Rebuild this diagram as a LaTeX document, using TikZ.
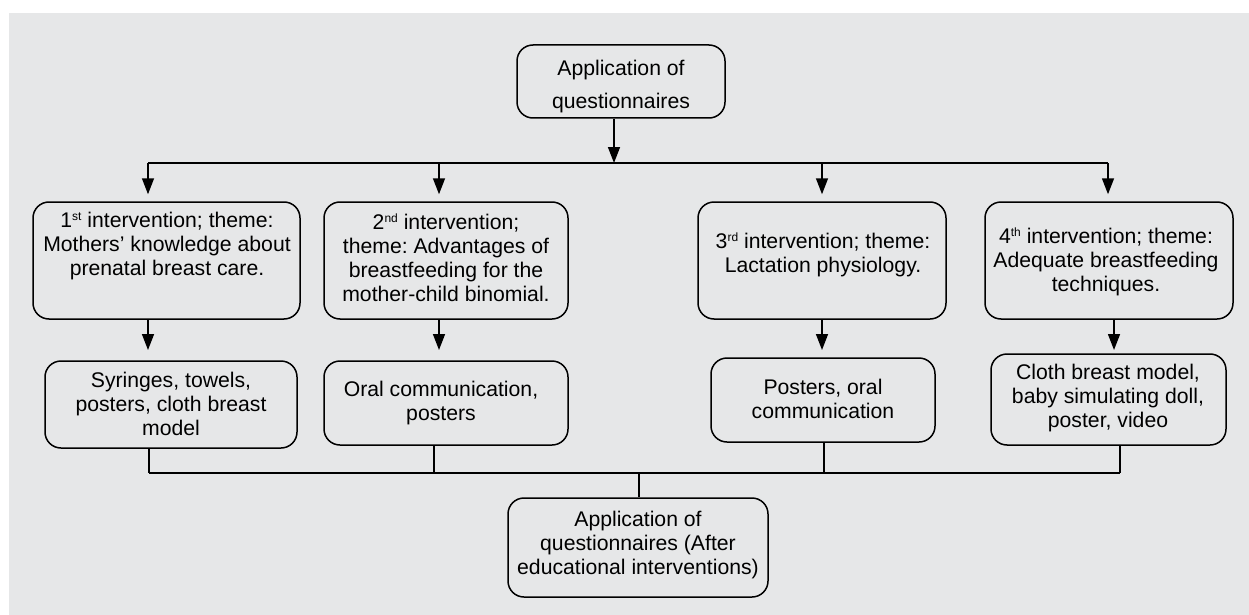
\documentclass[tikz,border=0pt]{standalone}
\usepackage{fontspec}
\setmainfont{Liberation Sans}
\usetikzlibrary{arrows.meta,calc}
\definecolor{bg}{HTML}{E6E7E8}
\newcommand{\ordsup}[1]{\raisebox{0.33em}{\fontsize{12}{12}\selectfont #1}}
\frenchspacing
\begin{document}
\begin{tikzpicture}[x=1pt,y=-1pt,
 box/.style={draw,line width=1.5pt,rounded corners=16pt,inner sep=0pt},
 txt/.style={align=center,font=\fontsize{21.2}{24}\selectfont\frenchspacing,inner sep=0pt},
 toptxt/.style={align=center,font=\fontsize{21.2}{33}\selectfont,inner sep=0pt},
 ln/.style={line width=1.5pt},
 arr/.style={line width=1.5pt,-{Triangle[length=16pt,width=12pt]}}]
\useasboundingbox (0,0) rectangle (1249,615);
\fill[bg] (9,13) rectangle (1249,615);

% boxes
\node[box,minimum width=208pt,minimum height=73pt] (top) at (621,81.5) {};
\node[toptxt] (toptext) at (621,87) {Application of\\questionnaires};

\node[box,minimum width=267pt,minimum height=117pt] (b1) at (166.5,260.5) {};
\node[txt] (t1) at (167,246) {1\ordsup{st} intervention; theme:\\Mothers’ knowledge about\\prenatal breast care.};
\node[box,minimum width=244pt,minimum height=117pt] (b2) at (446,260.5) {};
\node[txt] (t2) at (446,258) {2\ordsup{nd} intervention;\\theme: Advantages of\\breastfeeding for the\\mother-child binomial.};
\node[box,minimum width=248pt,minimum height=117pt] (b3) at (822,260.5) {};
\node[txt] (t3) at (823,255) {3\ordsup{rd} intervention; theme:\\Lactation physiology.};
\node[box,minimum width=248pt,minimum height=117pt] (b4) at (1109,260.5) {};
\node[txt] (t4) at (1106,262) {4\ordsup{th} intervention; theme:\\Adequate breastfeeding\\techniques.};

\node[box,minimum width=252pt,minimum height=87pt] (l1) at (171,404.5) {};
\node[txt] (u1) at (171,404) {Syringes, towels,\\posters, cloth breast\\model};
\node[box,minimum width=244pt,minimum height=84pt] (l2) at (446,403) {};
\node[txt] (u2) at (441,403) {Oral communication,\\posters};
\node[box,minimum width=224pt,minimum height=84pt] (l3) at (823,400) {};
\node[txt] (u3) at (823,399) {Posters, oral\\communication};
\node[box,minimum width=235pt,minimum height=91pt] (l4) at (1108.5,399.5) {};
\node[txt] (u4) at (1108,398) {Cloth breast model,\\baby simulating doll,\\poster, video};

\node[box,minimum width=260pt,minimum height=99pt] (fin) at (638,547.5) {};
\node[txt] (ft) at (638,545) {Application of\\questionnaires (After\\educational interventions)};

% coordinates
\coordinate (c0) at (614,163);
\coordinate (h1) at (148,163);
\coordinate (h2) at (439,163);
\coordinate (h3) at (822,163);
\coordinate (h4) at (1108,163);
\coordinate (m1) at (148,350);
\coordinate (m2) at (439,350);
\coordinate (m3) at (822,350);
\coordinate (m4) at (1114,350);
\coordinate (g1) at (149,473);
\coordinate (g2) at (434,473);
\coordinate (g3) at (824,473);
\coordinate (g4) at (1120,473);
\coordinate (g0) at (639,473);

% connectors
\draw[arr] (top.south -| c0) -- (c0);
\draw[ln] (h1) -- (h4);
\draw[arr] (h1) -- ($(b1.north -| h1)+(0,-7)$);
\draw[arr] (h2) -- ($(b2.north -| h2)+(0,-7)$);
\draw[arr] (h3) -- ($(b3.north -| h3)+(0,-7)$);
\draw[arr] (h4) -- ($(b4.north -| h4)+(0,-7)$);

\draw[arr] (b1.south -| m1) -- (m1);
\draw[arr] (b2.south -| m2) -- (m2);
\draw[arr] (b3.south -| m3) -- (m3);
\draw[arr] (b4.south -| m4) -- (m4);

\draw[ln] (l1.south -| g1) -- (g1);
\draw[ln] (l2.south -| g2) -- (g2);
\draw[ln] (l3.south -| g3) -- (g3);
\draw[ln] (l4.south -| g4) -- (g4);
\draw[ln] (g1) -- (g4);
\draw[ln] (g0) -- (fin.north -| g0);
\end{tikzpicture}
\end{document}
